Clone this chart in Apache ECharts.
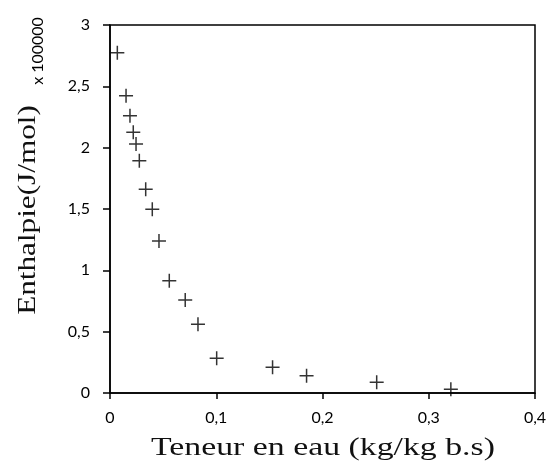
<!DOCTYPE html>
<html>
<head>
<meta charset="utf-8">
<script src="https://cdn.jsdelivr.net/npm/echarts@6/dist/echarts.min.js"></script>
<style>
  html, body { margin: 0; padding: 0; background: #fff; }
  #chart { width: 553px; height: 468px; }
</style>
</head>
<body>
<div id="chart"></div>
<script>
// teneur en eau (kg/kg b.s)
const teneur = [0.0069, 0.0151, 0.0188, 0.0219, 0.0245, 0.0276, 0.0336, 0.0398, 0.0461,
  0.0558, 0.0708, 0.0828, 0.1004, 0.153, 0.185, 0.251, 0.3208];
// enthalpie (x100000 J/mol)
const enthalpie = [2.774, 2.424, 2.261, 2.125, 2.03, 1.894, 1.661, 1.498, 1.239,
  0.916, 0.758, 0.560, 0.283, 0.209, 0.141, 0.087, 0.030];

const xTitle = 'Teneur en eau (kg/kg b.s)';
const yTitle = 'Enthalpie(J/mol)';
const multiplier = 'x 100000';

const comma = v => String(Math.round(v * 100) / 100).replace('.', ',');

const chart = echarts.init(document.getElementById('chart'));
const labelFont = {fontFamily: 'Lato, "Open Sans", sans-serif', fontSize: 16, color: '#000'};
const titleFont = '26px "Liberation Serif", serif';

chart.setOption({
  animation: false,
  grid: {
    left: 110, top: 25, right: 18, bottom: 75,
    show: true, borderColor: '#000', borderWidth: 1.5
  },
  xAxis: {
    type: 'value',
    min: 0, max: 0.4, interval: 0.1,
    splitLine: {show: false},
    axisLine: {lineStyle: {color: '#000', width: 1.5}},
    axisTick: {show: true, inside: false, length: 6, lineStyle: {color: '#000', width: 1.5}},
    axisLabel: Object.assign({margin: 17, formatter: comma}, labelFont)
  },
  yAxis: {
    type: 'value',
    min: 0, max: 3, interval: 0.5,
    splitLine: {show: false},
    axisLine: {lineStyle: {color: '#000', width: 1.5}},
    axisTick: {show: true, inside: false, length: 7, lineStyle: {color: '#000', width: 1.5}},
    axisLabel: Object.assign({margin: 20, formatter: comma}, labelFont)
  },
  graphic: [
    {
      type: 'text', x: 38, y: 51, rotation: Math.PI / 2,
      style: {text: multiplier, font: '16px Lato, "Open Sans", sans-serif', fill: '#000',
        align: 'center', verticalAlign: 'middle'}
    },
    {
      type: 'text', x: 323, y: 448, scaleX: 1.3,
      style: {text: xTitle, font: titleFont, fill: '#111', align: 'center', verticalAlign: 'middle'}
    },
    {
      type: 'text', x: 28, y: 210, rotation: Math.PI / 2, scaleX: 1.2,
      style: {text: yTitle, font: titleFont, fill: '#111', align: 'center', verticalAlign: 'middle'}
    }
  ],
  series: [{
    type: 'scatter',
    data: teneur.map((x, i) => [x, enthalpie[i]]),
    symbol: 'path://M7,0L7,14M0,7L14,7',
    symbolSize: 14,
    itemStyle: {color: 'none', borderColor: '#000', borderWidth: 1.5}
  }]
});
</script>
</body>
</html>
